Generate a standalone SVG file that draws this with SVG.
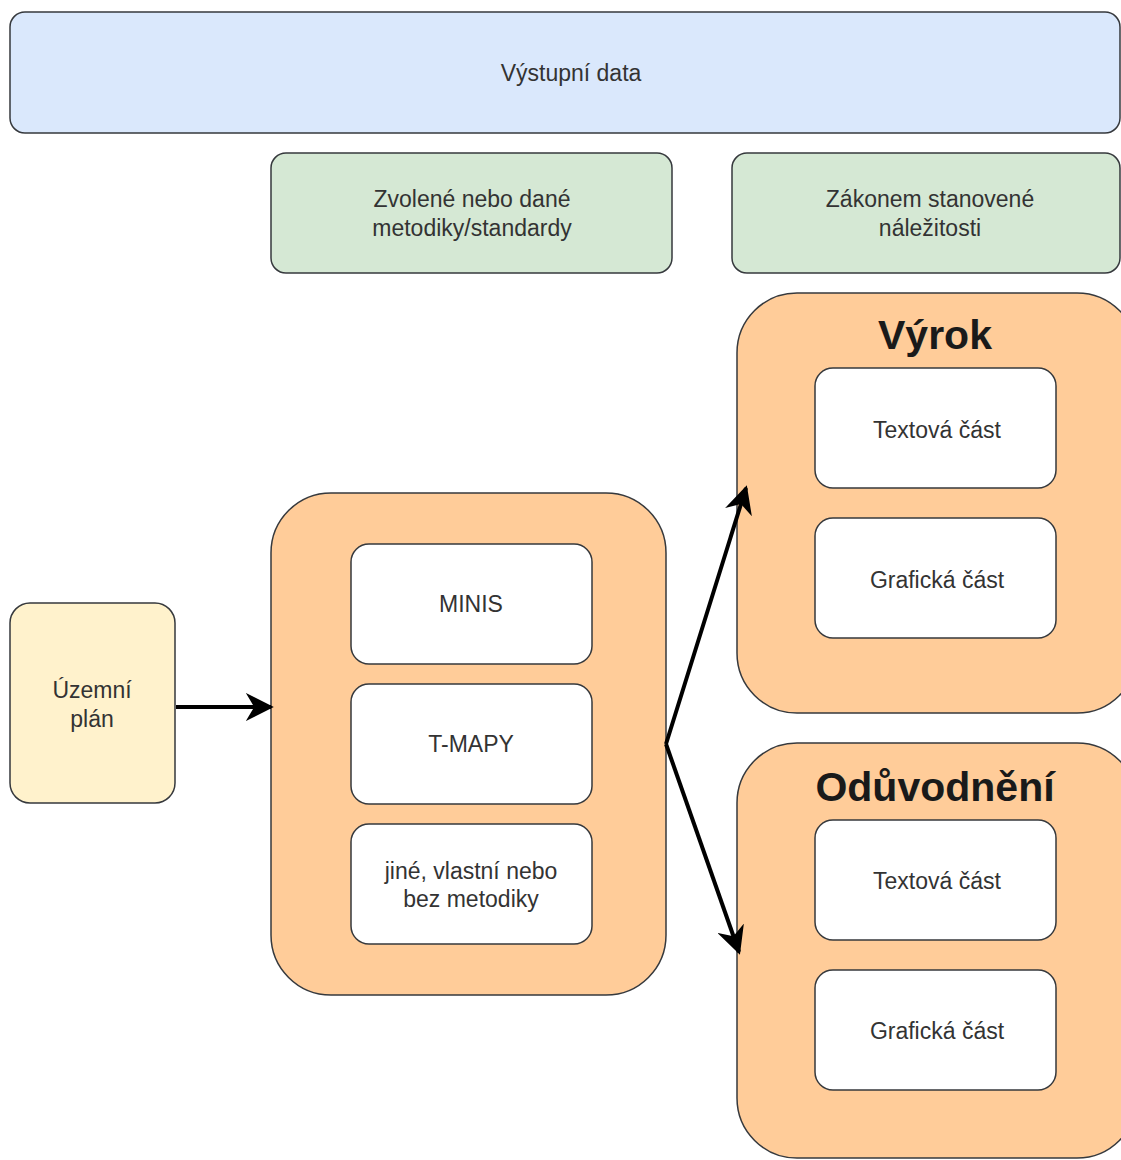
<svg xmlns="http://www.w3.org/2000/svg" width="1121" height="1160" viewBox="0 0 1121 1160">
  <style>
    .box { stroke: #36393d; stroke-width: 1.5; }
    .blue { fill: #dae8fc; }
    .green { fill: #d5e8d4; }
    .orange { fill: #ffcc99; }
    .yellow { fill: #fff2cc; }
    .white { fill: #ffffff; }
    .lbl { font-family: "Liberation Sans", Arial, sans-serif; font-size: 23px; fill: #333333; text-anchor: middle; }
    .title { font-family: "Liberation Sans", Arial, sans-serif; font-size: 41px; font-weight: bold; fill: #1a1a1a; text-anchor: middle; }
    .edge { stroke: #000000; stroke-width: 4; fill: none; }
  </style>
  <defs>
    <marker id="arrow" viewBox="0 0 10 10" refX="9" refY="5" markerWidth="7" markerHeight="7" orient="auto" markerUnits="strokeWidth">
      <path d="M0,0 L10,5 L0,10 L3,5 Z" fill="#000000"/>
    </marker>
  </defs>
  <rect width="1121" height="1160" fill="#ffffff"/>

  <g id="vystupni-data">
    <rect class="box blue" x="10" y="12" width="1110" height="121" rx="15"/>
    <text class="lbl" x="571" y="81">Výstupní data</text>
  </g>

  <g id="metodiky">
    <rect class="box green" x="271" y="153" width="401" height="120" rx="15"/>
    <text class="lbl" x="472" y="207">Zvolené nebo dané</text>
    <text class="lbl" x="472" y="236">metodiky/standardy</text>
  </g>

  <g id="nalezitosti">
    <rect class="box green" x="732" y="153" width="388" height="120" rx="15"/>
    <text class="lbl" x="930" y="207">Zákonem stanovené</text>
    <text class="lbl" x="930" y="236">náležitosti</text>
  </g>

  <g id="uzemni-plan">
    <rect class="box yellow" x="10" y="603" width="165" height="200" rx="20"/>
    <text class="lbl" x="92" y="698">Územní</text>
    <text class="lbl" x="92" y="727">plán</text>
  </g>

  <g id="metodika-group">
    <rect class="box orange" x="271" y="493" width="395" height="502" rx="60"/>
    <g id="minis">
      <rect class="box white" x="351" y="544" width="241" height="120" rx="18"/>
      <text class="lbl" x="471" y="612">MINIS</text>
    </g>
    <g id="t-mapy">
      <rect class="box white" x="351" y="684" width="241" height="120" rx="18"/>
      <text class="lbl" x="471" y="752">T-MAPY</text>
    </g>
    <g id="jine">
      <rect class="box white" x="351" y="824" width="241" height="120" rx="18"/>
      <text class="lbl" x="471" y="879">jiné, vlastní nebo</text>
      <text class="lbl" x="471" y="907">bez metodiky</text>
    </g>
  </g>

  <g id="vyrok">
    <rect class="box orange" x="737" y="293" width="400" height="420" rx="60"/>
    <text class="title" x="935" y="349">Výrok</text>
    <g id="vyrok-text">
      <rect class="box white" x="815" y="368" width="241" height="120" rx="18"/>
      <text class="lbl" x="937" y="438">Textová část</text>
    </g>
    <g id="vyrok-graf">
      <rect class="box white" x="815" y="518" width="241" height="120" rx="18"/>
      <text class="lbl" x="937" y="588">Grafická část</text>
    </g>
  </g>

  <g id="oduvodneni">
    <rect class="box orange" x="737" y="743" width="400" height="415" rx="60"/>
    <text class="title" x="935" y="801">Odůvodnění</text>
    <g id="oduv-text">
      <rect class="box white" x="815" y="820" width="241" height="120" rx="18"/>
      <text class="lbl" x="937" y="889">Textová část</text>
    </g>
    <g id="oduv-graf">
      <rect class="box white" x="815" y="970" width="241" height="120" rx="18"/>
      <text class="lbl" x="937" y="1039">Grafická část</text>
    </g>
  </g>

  <g id="connectors">
    <line class="edge" x1="176" y1="707" x2="271" y2="707" marker-end="url(#arrow)"/>
    <line class="edge" x1="666" y1="744" x2="746" y2="488" marker-end="url(#arrow)"/>
    <line class="edge" x1="666" y1="744" x2="739" y2="952" marker-end="url(#arrow)"/>
  </g>
</svg>
